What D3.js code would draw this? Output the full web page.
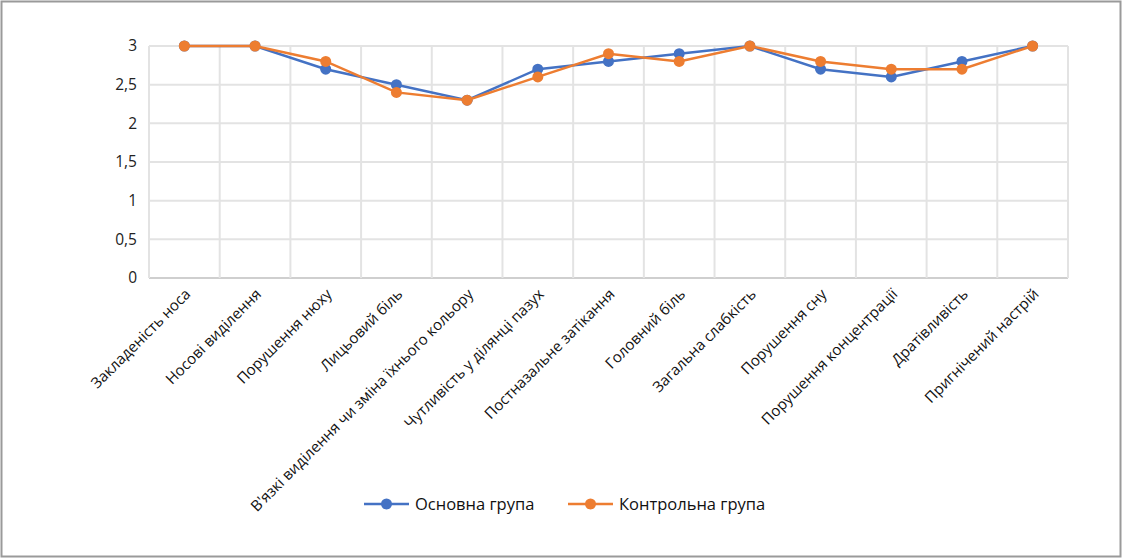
<!DOCTYPE html>
<html><head><meta charset="utf-8">
<script src="https://cdn.jsdelivr.net/npm/d3@7"></script>
<style>
html,body{margin:0;padding:0;background:#fff;}
svg{display:block;}
</style></head>
<body>
<svg id="c" width="1123" height="559"></svg>
<script>
const categories = ["Закладеність носа","Носові виділення","Порушення нюху","Лицьовий біль","В'язкі виділення чи зміна їхнього кольору","Чутливість у ділянці пазух","Постназальне затікання","Головний біль","Загальна слабкість","Порушення сну","Порушення концентрації","Дратівливість","Пригнічений настрій"];
const mainGroup = [3,3,2.7,2.5,2.3,2.7,2.8,2.9,3,2.7,2.6,2.8,3];
const controlGroup = [3,3,2.8,2.4,2.3,2.6,2.9,2.8,3,2.8,2.7,2.7,3];
const yTicks = [0,0.5,1,1.5,2,2.5,3];
const seriesNames = ["Основна група","Контрольна група"];
const colors = ["#4472C4","#ED7D31"];

const svg = d3.select("#c");
svg.append("rect").attr("x",1.5).attr("y",1.5).attr("width",1119).attr("height",555)
  .attr("fill","#fff").attr("stroke","#9a9a9a").attr("stroke-width",2);

const L=149,R=1068,T=46,B=278;
const x = d3.scaleBand().domain(categories).range([L,R]);
const y = d3.scaleLinear().domain([0,3]).range([B,T]);
const fmt = d => String(d).replace(".",",");

// grid
const g = svg.append("g");
g.selectAll("line.h").data(yTicks).join("line")
  .attr("x1",L).attr("x2",R).attr("y1",d=>y(d)).attr("y2",d=>y(d))
  .attr("stroke",d=>d===0?"#cfcfcf":"#e3e3e3").attr("stroke-width",2);
const vb = categories.map(c=>x(c)).concat([R]);
g.selectAll("line.v").data(vb).join("line")
  .attr("x1",d=>d).attr("x2",d=>d).attr("y1",T).attr("y2",B)
  .attr("stroke","#e3e3e3").attr("stroke-width",2);

// y axis
const ya = svg.append("g").attr("transform",`translate(${L-8},0)`)
  .call(d3.axisLeft(y).tickValues(yTicks).tickFormat(fmt).tickSize(0).tickPadding(4));
ya.select(".domain").remove();
ya.selectAll("text").attr("font-family","Open Sans, sans-serif").attr("font-size",15.5).attr("fill","#222");

// x axis
const xa = svg.append("g").attr("transform",`translate(0,${B})`)
  .call(d3.axisBottom(x).tickSize(0));
xa.select(".domain").remove();
xa.selectAll("text")
  .attr("font-family","Open Sans, sans-serif").attr("font-size",15).attr("fill","#111")
  .attr("text-anchor","end").attr("dy",0)
  .attr("transform","translate(5,15) rotate(-45)");

// lines
const series = [mainGroup, controlGroup];
const line = d3.line().x((d,i)=>x(categories[i])+x.bandwidth()/2).y(d=>y(d));
series.forEach((s,k)=>{
  svg.append("path").datum(s).attr("d",line).attr("fill","none")
    .attr("stroke",colors[k]).attr("stroke-width",2.5);
  svg.append("g").selectAll("circle").data(s).join("circle")
    .attr("cx",(d,i)=>x(categories[i])+x.bandwidth()/2).attr("cy",d=>y(d))
    .attr("r",5.5).attr("fill",colors[k]);
});

// legend
const lg = svg.append("g");
const lx = [364,568];
seriesNames.forEach((n,k)=>{
  lg.append("line").attr("x1",lx[k]).attr("x2",lx[k]+45).attr("y1",504).attr("y2",504)
    .attr("stroke",colors[k]).attr("stroke-width",2.5);
  lg.append("circle").attr("cx",lx[k]+22.5).attr("cy",504).attr("r",5.5).attr("fill",colors[k]);
  lg.append("text").attr("x",lx[k]+51).attr("y",510).text(n)
    .attr("font-family","Open Sans, sans-serif").attr("font-size",16.5).attr("fill","#111");
});
</script>
</body></html>
